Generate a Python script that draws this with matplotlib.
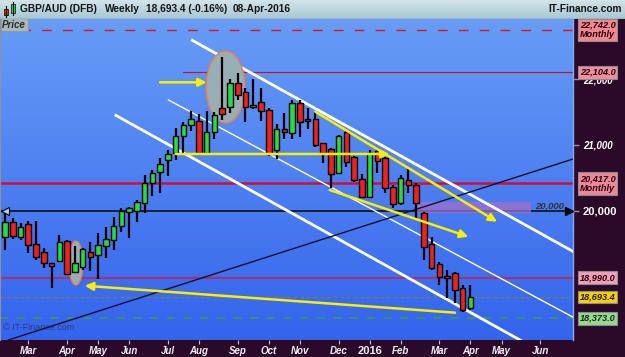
import matplotlib
matplotlib.use('Agg')
import matplotlib.pyplot as plt
import matplotlib.dates as mdates
from matplotlib.patches import Ellipse, Rectangle
from matplotlib.transforms import blended_transform_factory
import numpy as np
import pandas as pd

plt.rcParams['font.family'] = ['Liberation Sans', 'DejaVu Sans']

# ---------------- data ----------------
first_week = '2015-02-09'
opens = [19610, 19837, 19610, 19802, 19499, 19383, 19207, 19246, 19545, 19080,
         19155, 19383, 19333, 19469, 19560, 19772, 19989, 20000, 20116, 20419,
         20595, 20773, 20874, 21136, 21303, 21364, 20874, 21202, 21565, 21581,
         21935, 21799, 21571, 21647, 21531, 20924, 21243, 21186, 21632, 21394,
         21394, 21026, 20935, 20580, 21202, 20818, 20480, 20216, 20909, 20798,
         20359, 20125, 20469, 20394, 19974, 19499, 19192, 19014, 19055, 18828,
         18525]
highs = [19969, 19898, 19818, 19848, 19853, 19439, 19207, 19636, 19560, 19469,
         19443, 19534, 19666, 19757, 19913, 20045, 20060, 20166, 20545, 20621,
         20798, 20924, 21253, 21353, 21520, 21470, 21520, 21505, 22329, 21996,
         22096, 21859, 21996, 21859, 21556, 21318, 21480, 21682, 21682, 21556,
         21505, 21035, 20950, 21152, 21227, 20833, 20560, 20924, 20955, 20823,
         20394, 20545, 20632, 20419, 19989, 19605, 19231, 19105, 19080, 18878,
         18878]
lows = [19408, 19571, 19560, 19363, 19257, 19136, 18828, 19231, 19029, 19064,
        19105, 19095, 18964, 19287, 19408, 19686, 19590, 19837, 19965, 20227,
        20268, 20530, 20773, 20874, 21217, 20860, 20848, 21086, 21379, 21480,
        21682, 21353, 21541, 21368, 20833, 20783, 21086, 21086, 21126, 21238,
        20974, 20723, 20344, 20560, 20662, 20439, 20192, 20201, 20576, 20268,
        20040, 20091, 20268, 19889, 19257, 19105, 18878, 18681, 18600, 18473,
        18499]
closes = [19837, 19621, 19762, 19484, 19302, 19216, 19170, 19534, 19045, 19207,
          19424, 19298, 19484, 19571, 19772, 20004, 20045, 20131, 20429, 20571,
          20707, 20859, 21136, 21303, 21390, 20874, 21202, 21455, 21470, 21944,
          21758, 21571, 21606, 21515, 20864, 21243, 21202, 21632, 21353, 21364,
          21000, 20883, 20560, 21136, 20742, 20469, 20216, 20883, 20757, 20344,
          20106, 20504, 20394, 20125, 19458, 19136, 19004, 18984, 18802, 18499,
          18693.4]

month_tick_dates = ['2015-03-02', '2015-04-06', '2015-05-04', '2015-06-01', '2015-07-06',
                    '2015-08-03', '2015-09-07', '2015-10-05', '2015-11-02', '2015-12-07',
                    '2016-01-04', '2016-02-01', '2016-03-07', '2016-04-04', '2016-05-02',
                    '2016-06-06']
month_tick_labels = ['Mar', 'Apr', 'May', 'Jun', 'Jul', 'Aug', 'Sep', 'Oct', 'Nov', 'Dec',
                     '2016', 'Feb', 'Mar', 'Apr', 'May', 'Jun']

monthly_level_1 = 22742.0
level_22104 = 22104.0
level_22104_start = '2015-07-20'
monthly_level_2 = 20417.0
pivot_level = 20000.0
level_18990 = 18990.0
last_price = 18693.4
level_18373 = 18373.0
pct_change = -0.16

# channel / trend lines (date, price) pairs
upper_channel_dates = ['2015-07-27', '2016-07-11']
upper_channel_prices = [22596, 19336]
mid_channel_dates = ['2015-07-06', '2016-07-11']
mid_channel_prices = [21687, 18341]
lower_channel_dates = ['2015-05-19', '2016-07-11']
lower_channel_prices = [21459, 17546]
support_dates = ['2015-02-12', '2016-07-11']
support_prices = [18044, 20817]

# yellow arrows: tail date, tail price, head date, head price
arrow_tail_dates = ['2015-06-29', '2015-07-13', '2015-11-16', '2015-11-29', '2016-03-21']
arrow_tail_prices = [21950, 20864, 21505, 20318, 18458]
arrow_head_dates = ['2015-08-10', '2016-01-22', '2016-04-28', '2016-04-02', '2015-04-22']
arrow_head_prices = [21950, 20864, 19837, 19610, 18867]

# highlighted ellipses: centre date, centre price, width (days), height (price)
ellipse_dates = ['2015-08-27', '2015-04-14']
ellipse_prices = [21879, 19211]
ellipse_widths = [35, 12.6]
ellipse_heights = [1090, 667]

# purple zone
zone_dates = ['2016-02-15', '2016-05-29']
zone_prices = [19965, 20141]
zone_label_date = '2016-06-01'
zone_label_price = 20075

# ---------------- figure ----------------
W, H = 625, 357
fig = plt.figure(figsize=(W / 100, H / 100), dpi=100, facecolor='#2b0a29')

ax = fig.add_axes([0, 17 / H, 573 / W, 321 / H])
dates = pd.date_range(first_week, periods=len(opens), freq='7D')
xd = mdates.date2num(dates)
x0 = mdates.date2num(pd.Timestamp(first_week)) - 4.5
x1 = x0 + 517
ax.set_xlim(x0, x1)
ax.set_ylim(18044, 22910)

# background gradient
grad = np.linspace(0, 1, 256).reshape(-1, 1)
top = np.array([104, 156, 246]) / 255
bot = np.array([52, 100, 236]) / 255
img = top + (bot - top) * grad[:, :, None]
ax.imshow(img, extent=[0, 1, 0, 1], transform=ax.transAxes, aspect='auto', zorder=0)

trans = blended_transform_factory(ax.transAxes, ax.transData)

# horizontal levels
ax.axhline(monthly_level_1, color='#e0141e', lw=1.0, dashes=(7, 8), zorder=2)
ax.plot([mdates.date2num(pd.Timestamp(level_22104_start)), x1 + 10], [level_22104, level_22104],
        color='#c8102a', lw=0.8, zorder=2)
ax.axhline(monthly_level_2, color='#d0103a', lw=1.8, zorder=2)
ax.axhline(pivot_level, color='#101018', lw=1.2, zorder=2)
ax.axhline(level_18990, color='#a83070', lw=1.5, zorder=2)
ax.axhline(last_price, color='#8c7a3c', lw=0.8, dashes=(3, 3), zorder=2)
ax.axhline(level_18373, color='#3a9a58', lw=1.2, dashes=(5, 5), zorder=2)

# purple zone
zd = mdates.date2num(pd.to_datetime(zone_dates))
ax.add_patch(Rectangle((zd[0], zone_prices[0]), zd[1] - zd[0], zone_prices[1] - zone_prices[0],
                       fc='#a070c8', alpha=0.75, ec='none', zorder=2.2))
ax.text(mdates.date2num(pd.Timestamp(zone_label_date)), zone_label_price, '20,000',
        fontsize=6.8, style='italic', weight='bold', color='#303030', va='center', zorder=2.3)

# channel lines
for ds, ps, lw in [(upper_channel_dates, upper_channel_prices, 2.0),
                   (mid_channel_dates, mid_channel_prices, 1.0),
                   (lower_channel_dates, lower_channel_prices, 2.0)]:
    ax.plot(mdates.date2num(pd.to_datetime(ds)), ps, color='white', lw=lw, zorder=3,
            solid_capstyle='butt')
ax.plot(mdates.date2num(pd.to_datetime(support_dates)), support_prices, color='#101030', lw=1.0, zorder=3)

# ellipses
for d, p, w, h in zip(ellipse_dates, ellipse_prices, ellipse_widths, ellipse_heights):
    ax.add_patch(Ellipse((mdates.date2num(pd.Timestamp(d)), p), w, h, fc='#98aeb4',
                         ec='#e8804a', lw=1.0, zorder=3.5))

# candles
opens_a = np.array(opens, float)
closes_a = np.array(closes, float)
up = closes_a >= opens_a
ax.vlines(xd, lows, highs, color='black', lw=1.6, zorder=4)
bottoms = np.minimum(opens_a, closes_a)
heights = np.maximum(np.abs(closes_a - opens_a), 8)
ax.bar(xd, heights, bottom=bottoms, width=5.0,
       color=np.where(up, '#22dd44', '#f02020'), edgecolor='black', linewidth=1.0, zorder=5)

# yellow arrows
for td, tp, hd, hp in zip(arrow_tail_dates, arrow_tail_prices, arrow_head_dates, arrow_head_prices):
    ax.annotate('', xy=(mdates.date2num(pd.Timestamp(hd)), hp),
                xytext=(mdates.date2num(pd.Timestamp(td)), tp),
                arrowprops=dict(arrowstyle='-|>', color='#f8f000', lw=1.8, mutation_scale=12,
                                shrinkA=0, shrinkB=0), zorder=6)

# left marker on pivot line and right arrow
ax.plot([0.008], [pivot_level], marker='<', ms=6, mfc='#b8c8e8', mec='black', mew=0.8,
        transform=trans, zorder=6, clip_on=False)
ax.plot([0.993], [pivot_level], marker='>', ms=6, color='black', transform=trans, zorder=6,
        clip_on=False)

# axes styling
for s in ['top', 'bottom']:
    ax.spines[s].set_visible(False)
ax.spines['left'].set_color('#8894a4')
ax.spines['left'].set_linewidth(1.5)
ax.spines['right'].set_color('#88aaf0')
ax.spines['right'].set_linewidth(1.0)

ax.set_xticks(mdates.date2num(pd.to_datetime(month_tick_dates)))
ax.set_xticklabels(month_tick_labels)
ax.tick_params(axis='x', colors='#c8b8c8', length=3, width=0.8, pad=1.5, labelsize=7,
               labelcolor='#f4ecf4')
for lbl in ax.get_xticklabels():
    if lbl.get_text() == '2016':
        lbl.set_fontsize(8)
        lbl.set_fontweight('bold')
    else:
        lbl.set_fontstyle('italic')
        lbl.set_fontweight('bold')

ax.yaxis.tick_right()
ax.set_yticks([20000, 21000, 22000])
ax.set_yticklabels(['20,000', '21,000', '22,000'])
ax.tick_params(axis='y', colors='#9090a0', length=4, width=1, pad=3, labelsize=7,
               labelcolor='white')
for lbl in ax.get_yticklabels():
    lbl.set_fontweight('bold')
    if lbl.get_text() == '20,000':
        lbl.set_fontsize(8)
    else:
        lbl.set_fontstyle('italic')


def box_label(price, text, fc, tc='#2a0010'):
    ax.text(1.012, price, text, transform=trans, ha='left', va='center', fontsize=6.6,
            style='italic', weight='bold', color=tc, linespacing=1.1,
            bbox=dict(boxstyle='square,pad=0.2', fc=fc, ec='#8a8a90', lw=0.8),
            clip_on=False, zorder=10)


box_label(monthly_level_1, f'{monthly_level_1:,.1f}\nMonthly', '#f08890')
box_label(level_22104, f'{level_22104:,.1f}', '#f0909c')
box_label(monthly_level_2, f'{monthly_level_2:,.1f}\nMonthly', '#ec8898')
box_label(level_18990, f'{level_18990:,.1f}', '#f0a0b4')
box_label(last_price, f'{last_price:,.1f}', '#f8d000', tc='#202000')
box_label(level_18373, f'{level_18373:,.1f}', '#98d890', tc='#103010')

# Price label and copyright
ax.text(0.004, 0.998, 'Price', transform=ax.transAxes, ha='left', va='top', fontsize=7,
        style='italic', weight='bold', color='#2a2a2a',
        bbox=dict(boxstyle='square,pad=0.15', fc='#a8b8b8', ec='#909898', lw=0.6), zorder=9)
ax.text(0.005, 0.025, '\u00a9 IT-Finance.com', transform=ax.transAxes, ha='left', va='bottom',
        fontsize=6.5, color='#2a3050', alpha=0.75, zorder=9)

# ---------------- header ----------------
hax = fig.add_axes([0, 1 - 19 / H, 1, 19 / H])
hax.set_xlim(0, W)
hax.set_ylim(19, 0)
hg = np.linspace(0, 1, 64).reshape(-1, 1)
htop = np.array([210, 228, 234]) / 255
hbot = np.array([168, 198, 210]) / 255
hax.imshow(htop + (hbot - htop) * hg[:, :, None], extent=[0, W, 19, 0], aspect='auto', zorder=0)
hax.axis('off')
hax.plot([0, W], [18.5, 18.5], color='#607888', lw=1.0)
# candle icon
hax.plot([6, 6], [6, 17], color='black', lw=0.8)
hax.add_patch(Rectangle((4, 9), 4, 6, fc='#f02020', ec='black', lw=0.5))
hax.plot([12.5, 12.5], [2, 15], color='black', lw=0.8)
hax.add_patch(Rectangle((10.5, 4), 4, 9, fc='#22dd44', ec='black', lw=0.5))
hfont = dict(fontsize=7.3, weight='bold', color='#151515', va='center')
hax.text(20, 9.5, 'GBP/AUD (DFB)', **hfont)
hax.text(105, 9.5, 'Weekly', **hfont)
hax.text(146, 9.5, f'{closes[-1]:,.1f} ({pct_change:.2f}%)', **hfont)
hax.text(233, 9.5, '08-Apr-2016', **hfont)
hax.text(622, 9.5, 'IT-Finance.com', ha='right', **hfont)

fig.savefig('out.png', dpi=100, facecolor=fig.get_facecolor())
